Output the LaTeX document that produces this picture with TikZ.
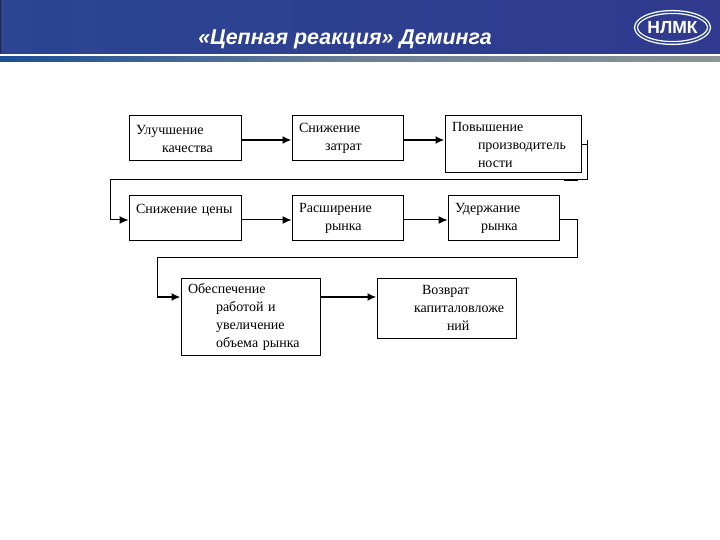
\documentclass[tikz,border=0pt]{standalone}
\usepackage{fontspec}
\setmainfont{Liberation Serif}
\setsansfont{Liberation Sans}
\usetikzlibrary{arrows.meta,shapes.geometric}
\definecolor{headblue}{HTML}{2B4592}
\definecolor{headdark}{HTML}{303A8E}
\definecolor{stripblue}{HTML}{1C4F96}
\definecolor{stripgray}{HTML}{8C9496}
\tikzset{
    blockbox/.style 2 args={
        draw,line width=1pt,inner xsep=7pt,inner ysep=0pt,align=left,
        text width=#1,minimum height=#2,
        font=\fontsize{14}{18}\selectfont
    },
    thinflow/.style={line width=1pt,-{Latex[length=9pt,width=8pt]}},
    thickflow/.style={line width=2.4pt,-{Latex[length=9pt,width=8pt]}},
    thinline/.style={line width=1pt},
}
\newcommand{\ind}[1]{\hspace*{#1pt}}
\begin{document}
\begin{tikzpicture}[x=1pt,y=-1pt]
\useasboundingbox (0,0) rectangle (720,540);
%header
\shade[left color=headblue,right color=headdark] (0,0) rectangle (720,54);
\shade[left color=stripblue,right color=stripgray,middle color=stripgray!70!stripblue] (0,57) rectangle (720,62);
\draw[headdark!60!black,line width=1pt] (0.5,0) -- (0.5,54);
\node[text=white,font=\sffamily\bfseries\itshape\fontsize{21.4}{24}\selectfont] (title) at (345,39.5) {«Цепная реакция» Деминга};
\node[draw=white,double=headblue,double distance=1.5pt,line width=1.3pt,ellipse,minimum width=73pt,minimum height=31pt,inner sep=0pt,
  text=white,font=\sffamily\bfseries\fontsize{17.5}{20}\selectfont] (logo) at (672.5,27.5) {НЛМК};
%boxes
\node[blockbox={98pt}{45pt}] (a1) at (185,138.5) {Улучшение\\\ind{26}качества};
\node[blockbox={97pt}{45pt}] (a2) at (347.5,138.5) {Снижение\\\ind{26}затрат};
\node[blockbox={122pt}{57pt}] (a3) at (513,144.5) {Повышение\\\ind{26}производитель\\\ind{26}ности};
\node[blockbox={98pt}{44pt}] (b1) at (185,218) {Снижение цены\\\mbox{}};
\node[blockbox={97pt}{44pt}] (b2) at (347.5,218) {Расширение\\\ind{26}рынка};
\node[blockbox={97pt}{44pt}] (b3) at (503.5,218) {Удержание\\\ind{26}рынка};
\node[blockbox={125pt}{77pt}] (c1) at (250.5,316.5) {Обеспечение\\\ind{28}работой и\\\ind{28}увеличение\\\ind{28}объема рынка};
\node[blockbox={125pt}{60pt}] (c2) at (446.5,308) {\ind{38}Возврат\\\ind{30}капиталовложе\\\ind{63}ний};
%rows
\coordinate (rowa) at (0,140);
\coordinate (rowb) at (0,220);
\coordinate (rowc) at (0,297);
\coordinate (turna) at (587,140);
\coordinate (turnb) at (587,180);
\coordinate (turnc) at (110,180);
\coordinate (turnd) at (110,220);
\coordinate (turne) at (577,220);
\coordinate (turnf) at (577,257);
\coordinate (turng) at (157,257);
\coordinate (turnh) at (157,297);
\coordinate (ticka) at (564,180);
%arrows
\draw[thickflow] (a1.east |- rowa) -- (a2.west |- rowa);
\draw[thickflow] (a2.east |- rowa) -- (a3.west |- rowa);
\draw[thinline] (a3.east) -- ++(6,0);
\draw[thinline] (turna) -- (turnb) -- (turnc) -- (turnd);
\draw[thinflow] (turnd) -- (b1.west |- rowb);
\draw[line width=2pt] (ticka) -- ++(14,0);
\draw[thinflow] (b1.east |- rowb) -- (b2.west |- rowb);
\draw[thinflow] (b2.east |- rowb) -- (b3.west |- rowb);
\draw[thinline] (b3.east |- rowb) -- (turne) -- (turnf) -- (turng) -- (turnh);
\draw[thickflow] (turnh) -- (c1.west |- rowc);
\draw[thickflow] (c1.east |- rowc) -- (c2.west |- rowc);
\end{tikzpicture}
\end{document}
